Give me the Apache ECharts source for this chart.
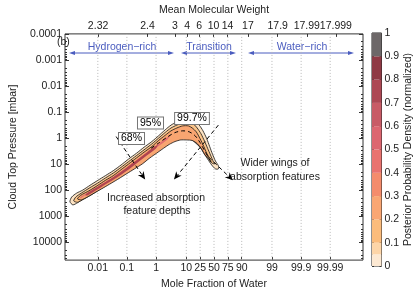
<!DOCTYPE html>
<html><head><meta charset="utf-8">
<script src="https://cdn.jsdelivr.net/npm/echarts@6/dist/echarts.min.js"></script>
<style>html,body{margin:0;padding:0;background:#fff;}#c{width:415px;height:295px;}</style>
</head><body><div id="c"></div>
<script>
// x coordinate: decimal log-odds of water mole fraction, log10(f/(1-f))
// y coordinate: log10 of cloud top pressure [mbar]
const moleTickPercents = [0.01, 0.1, 1, 10, 25, 50, 75, 90, 99, 99.9, 99.99];
const moleTickLabels = ['0.01','0.1','1','10','25','50','75','90','99','99.9','99.99'];
const mmwTickValues = [2.3216, 2.4, 3, 4, 6, 10, 14, 17, 17.9, 17.99, 17.999];
const mmwTickLabels = ['2.32','2.4','3','4','6','10','14','17','17.9','17.99','17.999'];
const pressureTicks = [0.0001, 0.001, 0.01, 0.1, 1, 10, 100, 1000, 10000];
const pressureTickLabels = ['0.0001','0.001','0.01','0.1','1','10','100','1000','10000'];
const colorbarEdges = [0, 0.05, 0.1, 0.2, 0.3, 0.4, 0.5, 0.6, 0.7, 0.8, 0.9, 1];
const colorbarColors = ['#fde9d3','#fdd5a8','#fbbc7c','#f9a673','#f48c6c','#e9736f','#dc6670','#c85b66','#ad4854','#8f3a45','#6d6869'];

// credible-region contours [log-odds, log10 p]
const contour997 = [[-4.96,2.44],[-4.90,2.26],[-4.73,2.11],[-4.53,2.00],[-4.27,1.81],[-4.00,1.62],[-3.74,1.44],[-3.47,1.25],[-3.20,1.03],[-2.94,0.80],[-2.67,0.58],[-2.41,0.35],[-2.14,0.13],[-1.91,-0.09],[-1.68,-0.32],[-1.48,-0.50],[-1.28,-0.62],[-1.08,-0.69],[-0.88,-0.73],[-0.68,-0.65],[-0.51,-0.50],[-0.38,-0.28],[-0.25,0.02],[-0.15,0.32],[-0.05,0.62],[0.05,0.88],[0.15,1.06],[0.15,1.18],[0.05,1.18],[-0.08,1.03],[-0.22,0.80],[-0.35,0.58],[-0.48,0.35],[-0.65,0.17],[-0.81,0.02],[-1.01,-0.06],[-1.21,-0.06],[-1.41,0.02],[-1.61,0.17],[-1.84,0.35],[-2.08,0.54],[-2.34,0.76],[-2.61,0.99],[-2.87,1.18],[-3.14,1.36],[-3.40,1.55],[-3.67,1.73],[-3.93,1.92],[-4.20,2.11],[-4.47,2.30],[-4.70,2.48],[-4.86,2.56]];
const contour95 = [[-4.83,2.41],[-4.76,2.26],[-4.57,2.11],[-4.27,1.90],[-4.00,1.72],[-3.74,1.53],[-3.47,1.34],[-3.20,1.12],[-2.94,0.90],[-2.67,0.67],[-2.41,0.45],[-2.14,0.22],[-1.91,0.00],[-1.68,-0.22],[-1.48,-0.39],[-1.28,-0.50],[-1.08,-0.58],[-0.88,-0.60],[-0.71,-0.54],[-0.58,-0.39],[-0.45,-0.17],[-0.32,0.13],[-0.22,0.39],[-0.12,0.65],[-0.02,0.91],[0.02,0.99],[-0.08,0.95],[-0.22,0.73],[-0.35,0.50],[-0.51,0.28],[-0.68,0.11],[-0.88,0.02],[-1.08,0.00],[-1.28,0.02],[-1.44,0.09],[-1.64,0.24],[-1.88,0.43],[-2.11,0.62],[-2.37,0.84],[-2.64,1.06],[-2.91,1.25],[-3.17,1.44],[-3.44,1.62],[-3.70,1.81],[-3.97,2.00],[-4.23,2.18],[-4.50,2.35],[-4.70,2.46]];
const contour68 = [[-4.70,2.33],[-4.60,2.20],[-4.27,2.00],[-4.00,1.81],[-3.74,1.62],[-3.47,1.44],[-3.20,1.21],[-2.94,0.99],[-2.67,0.76],[-2.41,0.54],[-2.14,0.32],[-1.91,0.09],[-1.68,-0.11],[-1.48,-0.28],[-1.28,-0.39],[-1.08,-0.47],[-0.88,-0.47],[-0.75,-0.39],[-0.61,-0.24],[-0.48,0.02],[-0.35,0.32],[-0.25,0.58],[-0.18,0.73],[-0.28,0.69],[-0.42,0.43],[-0.58,0.21],[-0.75,0.09],[-0.95,0.07],[-1.15,0.07],[-1.34,0.13],[-1.54,0.24],[-1.74,0.39],[-1.98,0.58],[-2.21,0.76],[-2.47,0.99],[-2.74,1.18],[-3.00,1.36],[-3.27,1.55],[-3.54,1.73],[-3.80,1.90],[-4.07,2.07],[-4.33,2.24],[-4.57,2.37]];
// high density cores
const coreMid = [[-4.60,2.26],[-4.27,2.05],[-3.93,1.83],[-3.60,1.60],[-3.27,1.34],[-2.94,1.08],[-2.61,0.80],[-2.27,0.52],[-1.94,0.24],[-1.68,0.02],[-1.51,-0.09],[-1.61,0.06],[-1.88,0.28],[-2.14,0.50],[-2.41,0.73],[-2.74,0.99],[-3.07,1.25],[-3.40,1.49],[-3.74,1.72],[-4.07,1.94],[-4.40,2.16],[-4.60,2.31]];
const coreHigh = [[-4.40,2.13],[-4.07,1.90],[-3.74,1.68],[-3.40,1.44],[-3.07,1.18],[-2.74,0.91],[-2.41,0.63],[-2.08,0.35],[-1.94,0.26],[-2.01,0.41],[-2.34,0.69],[-2.67,0.97],[-3.00,1.25],[-3.34,1.51],[-3.67,1.73],[-4.00,1.96],[-4.33,2.18],[-4.43,2.20]];
const ridgeLine = [[-2.17,0.39],[-1.88,0.17],[-1.61,-0.04],[-1.35,-0.21],[-1.08,-0.28],[-0.85,-0.24],[-0.65,-0.09],[-0.48,0.17],[-0.35,0.43],[-0.22,0.69],[-0.08,0.95]];
// annotation arrows [start, end]
const arrowDepthLeft = [[-3.37,-0.06],[-2.37,1.59]];
const arrowDepthRight = [[0.15,-0.50],[-1.38,1.59]];
const arrowWings = [[-0.18,0.73],[0.65,1.62]];

const XMIN = -5.13, XMAX = 5.13, YMIN = -4, YMAX = 4.68;
const logOdds = f => Math.log10(f / (1 - f));
const molePos = moleTickPercents.map(p => logOdds(p / 100));
const mmwPos = mmwTickValues.map(m => logOdds((m - 2.32) / (18 - 2.32)));
const presPos = pressureTicks.map(p => Math.log10(p));
const presMinor = [];
for (let e = -4; e <= 4; e++) for (let k = 2; k <= 9; k++) { const v = Math.log10(k * Math.pow(10, e)); if (v < YMAX) presMinor.push(v); }
const pick = (vals, labels) => v => { let b = 0, d = 1e9; vals.forEach((t, i) => { const q = Math.abs(t - v); if (q < d) { d = q; b = i; } }); return labels[b]; };

const FONT = 'Liberation Sans, Arial, Helvetica, sans-serif';
const TXT = '#222';
const FS = 10.5;

function polySeries(points, fill, stroke, lw, z) {
  return { type: 'custom', xAxisIndex: 0, yAxisIndex: 0, z: z, silent: true, clip: true, data: [[0, 0]],
    renderItem: (p, api) => ({ type: 'polygon', shape: { points: points.map(q => api.coord(q)), smooth: 0.25 },
      style: { fill: fill, stroke: stroke || null, lineWidth: lw || 0 } }) };
}
function lineSeries(points, color, dash, z) {
  return { type: 'custom', xAxisIndex: 0, yAxisIndex: 0, z: z, silent: true, clip: true, data: [[0, 0]],
    renderItem: (p, api) => ({ type: 'polyline', shape: { points: points.map(q => api.coord(q)), smooth: 0.3 },
      style: { fill: null, stroke: color, lineWidth: 1, lineDash: dash } }) };
}
function arrowSeries(pts, z) {
  return { type: 'custom', xAxisIndex: 0, yAxisIndex: 0, z: z, silent: true, clip: false, data: [[0, 0]],
    renderItem: (p, api) => {
      const a = api.coord(pts[0]), b = api.coord(pts[1]);
      const dx = b[0] - a[0], dy = b[1] - a[1], L = Math.hypot(dx, dy), ux = dx / L, uy = dy / L;
      const hl = 8, hw = 7;
      const base = [b[0] - ux * hl, b[1] - uy * hl];
      return { type: 'group', children: [
        { type: 'line', shape: { x1: a[0], y1: a[1], x2: base[0] + ux * 2, y2: base[1] + uy * 2 }, style: { stroke: '#000', lineWidth: 1, lineDash: [4, 3] } },
        { type: 'polygon', shape: { points: [b, [base[0] - uy * hw / 2, base[1] + ux * hw / 2], [base[0] + ux * 2.5, base[1] + uy * 2.5], [base[0] + uy * hw / 2, base[1] - ux * hw / 2]] }, style: { fill: '#000' } }
      ] };
    } };
}

const commonX = { type: 'value', gridIndex: 0, min: XMIN, max: XMAX, splitLine: { show: false }, axisLine: { show: false, onZero: false } };
const commonY = { type: 'value', gridIndex: 0, min: YMIN, max: YMAX, inverse: true, splitLine: { show: false }, axisLine: { show: false, onZero: false } };

const option = {
  animation: false,
  textStyle: { fontFamily: FONT, color: TXT },
  grid: [
    { left: 54, top: 33, width: 309, height: 233, show: true, borderColor: '#333', borderWidth: 1, backgroundColor: 'transparent' },
    { left: 372, top: 33, width: 11, height: 233, show: true, borderColor: '#222', borderWidth: 1, backgroundColor: 'transparent' }
  ],
  xAxis: [
    Object.assign({}, commonX, { position: 'bottom',
      axisTick: { show: true, inside: true, length: 3, customValues: molePos, lineStyle: { color: '#333' } },
      axisLabel: { customValues: molePos, formatter: pick(molePos, moleTickLabels), fontSize: FS, color: TXT, margin: 3, fontFamily: FONT },
      name: 'Mole Fraction of Water', nameLocation: 'middle', nameGap: 13, nameTextStyle: { fontSize: FS, color: TXT, fontFamily: FONT } }),
    Object.assign({}, commonX, { position: 'top',
      axisTick: { show: true, inside: true, length: 3, customValues: mmwPos, lineStyle: { color: '#333' } },
      axisLabel: { customValues: mmwPos, formatter: pick(mmwPos, mmwTickLabels), fontSize: FS, color: TXT, margin: 2, fontFamily: FONT },
      name: 'Mean Molecular Weight', nameLocation: 'middle', nameGap: 15, nameTextStyle: { fontSize: FS, color: TXT, fontFamily: FONT } }),
    { type: 'category', gridIndex: 1, data: ['d'], show: false }
  ],
  yAxis: [
    Object.assign({}, commonY, { position: 'left',
      axisTick: { show: true, inside: true, length: 4, customValues: presPos, lineStyle: { color: '#333' } },
      axisLabel: { customValues: presPos, formatter: pick(presPos, pressureTickLabels), fontSize: FS, color: TXT, margin: 3, fontFamily: FONT },
      name: 'Cloud Top Pressure [mbar]', nameLocation: 'middle', nameRotate: 90, nameGap: 35, nameTextStyle: { fontSize: FS, color: TXT, fontFamily: FONT } }),
    Object.assign({}, commonY, { position: 'left', axisLabel: { show: false },
      axisTick: { show: true, inside: true, length: 2, customValues: presMinor, lineStyle: { color: '#333' } } }),
    Object.assign({}, commonY, { position: 'right', axisLabel: { show: false },
      axisTick: { show: true, inside: true, length: 4, customValues: presPos, lineStyle: { color: '#333' } } }),
    Object.assign({}, commonY, { position: 'right', axisLabel: { show: false },
      axisTick: { show: true, inside: true, length: 2, customValues: presMinor, lineStyle: { color: '#333' } } }),
    { type: 'value', gridIndex: 1, min: 0, max: 1, interval: 0.1, position: 'right', splitLine: { show: false },
      axisLine: { show: false, onZero: false },
      axisTick: { show: true, inside: true, length: 2, lineStyle: { color: '#333' } },
      axisLabel: { fontSize: FS, color: TXT, margin: 3, fontFamily: FONT, formatter: v => String(+v.toFixed(1)) },
      name: 'Posterior Probability Density (normalized)', nameLocation: 'middle', nameRotate: 90, nameGap: 18,
      nameTextStyle: { fontSize: FS, color: TXT, fontFamily: FONT } },
    { type: 'value', gridIndex: 1, min: 0, max: 1, interval: 0.1, position: 'left', splitLine: { show: false },
      axisLine: { show: false, onZero: false }, axisLabel: { show: false },
      axisTick: { show: true, inside: true, length: 2, lineStyle: { color: '#333' } } }
  ],
  series: [
    { type: 'custom', xAxisIndex: 0, yAxisIndex: 0, z: 1, silent: true, clip: true,
      data: molePos.map(v => [v, 0]),
      renderItem: (p, api) => { const a = api.coord([api.value(0), YMIN]), b = api.coord([api.value(0), YMAX]);
        return { type: 'line', shape: { x1: a[0], y1: a[1], x2: b[0], y2: b[1] }, style: { stroke: '#b8b8b8', lineWidth: 1, lineDash: [1, 2] } }; } },
    polySeries(contour997, '#fde3c3', '#111', 0.8, 2),
    polySeries(contour95, '#fcc58a', '#111', 0.8, 3),
    polySeries(contour68, '#f8a571', '#111', 0.8, 4),
    polySeries(coreMid, '#e2706f', null, 0, 5),
    polySeries(coreHigh, '#b0444f', null, 0, 6),
    lineSeries(ridgeLine, '#000', [4, 3], 7),
    arrowSeries(arrowDepthLeft, 8),
    arrowSeries(arrowDepthRight, 8),
    arrowSeries(arrowWings, 8),
    { type: 'custom', xAxisIndex: 2, yAxisIndex: 4, silent: true,
      data: colorbarColors.map((c, i) => [0, colorbarEdges[i], colorbarEdges[i + 1]]),
      renderItem: (p, api) => { const lo = api.coord([0, api.value(1)]), hi = api.coord([0, api.value(2)]); const w = api.size([1, 0])[0];
        return { type: 'rect', shape: { x: lo[0] - w / 2, y: hi[1], width: w, height: lo[1] - hi[1] }, style: { fill: colorbarColors[p.dataIndex] } }; } }
  ],
  graphic: [
    { type: 'text', left: 57, top: 37, style: { text: '(b)', font: FS + 'px ' + FONT, fill: TXT } },
    { type: 'text', x: 122, y: 47, style: { text: 'Hydrogen\u2212rich', font: FS + 'px ' + FONT, fill: '#4a5cbf', align: 'center', verticalAlign: 'middle' } },
    { type: 'text', x: 209, y: 47, style: { text: 'Transition', font: FS + 'px ' + FONT, fill: '#4a5cbf', align: 'center', verticalAlign: 'middle' } },
    { type: 'text', x: 302, y: 47, style: { text: 'Water\u2212rich', font: FS + 'px ' + FONT, fill: '#4a5cbf', align: 'center', verticalAlign: 'middle' } },
    { type: 'line', shape: { x1: 73, y1: 53, x2: 170, y2: 53 }, style: { stroke: '#4a5cbf', lineWidth: 1 } },
    { type: 'polygon', shape: { points: [[69, 53], [75, 51], [75, 55]] }, style: { fill: '#4a5cbf' } },
    { type: 'polygon', shape: { points: [[174, 53], [168, 51], [168, 55]] }, style: { fill: '#4a5cbf' } },
    { type: 'line', shape: { x1: 185, y1: 53, x2: 232, y2: 53 }, style: { stroke: '#4a5cbf', lineWidth: 1 } },
    { type: 'polygon', shape: { points: [[181, 53], [187, 51], [187, 55]] }, style: { fill: '#4a5cbf' } },
    { type: 'polygon', shape: { points: [[236, 53], [230, 51], [230, 55]] }, style: { fill: '#4a5cbf' } },
    { type: 'line', shape: { x1: 252, y1: 53, x2: 350, y2: 53 }, style: { stroke: '#4a5cbf', lineWidth: 1 } },
    { type: 'polygon', shape: { points: [[248, 53], [254, 51], [254, 55]] }, style: { fill: '#4a5cbf' } },
    { type: 'polygon', shape: { points: [[354, 53], [348, 51], [348, 55]] }, style: { fill: '#4a5cbf' } },
    { type: 'text', x: 156, y: 198, z: 50, style: { text: 'Increased absorption', font: FS + 'px ' + FONT, fill: TXT, align: 'center', verticalAlign: 'middle' } },
    { type: 'text', x: 157, y: 211, z: 50, style: { text: 'feature depths', font: FS + 'px ' + FONT, fill: TXT, align: 'center', verticalAlign: 'middle' } },
    { type: 'text', x: 275, y: 163, z: 50, style: { text: 'Wider wings of', font: FS + 'px ' + FONT, fill: TXT, align: 'center', verticalAlign: 'middle' } },
    { type: 'text', x: 275, y: 177, z: 50, style: { text: 'absorption features', font: FS + 'px ' + FONT, fill: TXT, align: 'center', verticalAlign: 'middle' } },
    { type: 'text', x: 150.5, y: 123, z: 60, style: { text: '95%', font: FS + 'px ' + FONT, fill: '#000', align: 'center', verticalAlign: 'middle', backgroundColor: '#fff', borderColor: '#777', borderWidth: 1, padding: [0, 2, 0, 2] } },
    { type: 'text', x: 192, y: 118.5, z: 60, style: { text: '99.7%', font: FS + 'px ' + FONT, fill: '#000', align: 'center', verticalAlign: 'middle', backgroundColor: '#fff', borderColor: '#777', borderWidth: 1, padding: [0, 2, 0, 2] } },
    { type: 'text', x: 131.5, y: 138.5, z: 60, style: { text: '68%', font: FS + 'px ' + FONT, fill: '#000', align: 'center', verticalAlign: 'middle', backgroundColor: '#fff', borderColor: '#777', borderWidth: 1, padding: [0, 2, 0, 2] } }
  ]
};
const chart = echarts.init(document.getElementById('c'), null, { renderer: 'canvas' });
chart.setOption(option);
</script></body></html>
